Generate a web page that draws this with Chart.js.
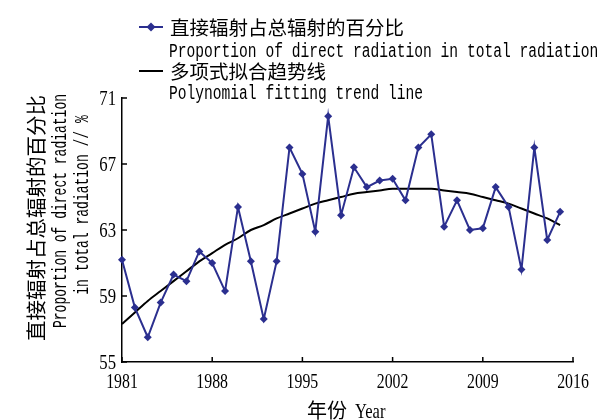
<!DOCTYPE html>
<html>
<head>
<meta charset="utf-8">
<script src="https://cdn.jsdelivr.net/npm/chart.js@4"></script>
<style>
    html, body { margin: 0; padding: 0; background: #fff; }
    canvas { display: block; }
</style>
</head>
<body>
<canvas id="myChart" width="614" height="420"></canvas>
<script>
const ctx = document.getElementById("myChart");

// Years 1981 - 2015
const years = [
    1981, 1982, 1983, 1984, 1985, 1986, 1987, 1988, 1989, 1990,
    1991, 1992, 1993, 1994, 1995, 1996, 1997, 1998, 1999, 2000,
    2001, 2002, 2003, 2004, 2005, 2006, 2007, 2008, 2009, 2010,
    2011, 2012, 2013, 2014, 2015
];

// Proportion of direct radiation in total radiation (%)
const directShare = [
    61.2, 58.3, 56.5, 58.6, 60.3, 59.9, 61.7, 61.0, 59.3, 64.4,
    61.1, 57.6, 61.1, 68.0, 66.4, 62.9, 69.9, 63.9, 66.8, 65.6,
    66.0, 66.1, 64.8, 68.0, 68.8, 63.2, 64.8, 63.0, 63.1, 65.6,
    64.4, 60.6, 68.0, 62.4, 64.1
];

// Polynomial fitting trend line
const trendLine = [
    57.3, 58.0, 58.7, 59.3, 59.9, 60.5, 61.1, 61.6, 62.1, 62.5,
    63.0, 63.3, 63.7, 64.0, 64.3, 64.6, 64.8, 65.0, 65.2, 65.3,
    65.4, 65.5, 65.5, 65.5, 65.5, 65.4, 65.3, 65.2, 65.0, 64.8,
    64.6, 64.3, 64.0, 63.7, 63.3
];

const xTicks = [1981, 1988, 1995, 2002, 2009, 2016];
const yTicks = [55, 59, 63, 67, 71];

const seriesNames = ["直接辐射占总辐射的百分比", "Proportion of direct radiation in total radiation",
                     "多项式拟合趋势线", "Polynomial fitting trend line"];
const yTitleLines = ["直接辐射占总辐射的百分比", "Proportion of direct radiation", "in total radiation // %"];
const xTitleCn = "年份";
const xTitleEn = "Year";

const BLUE = "#2b2f8f";
const MONO = "'Liberation Mono', monospace";
const SERIF = "'Liberation Serif', serif";
const CJK = "'Noto Sans CJK SC', sans-serif";

// draws text squeezed horizontally (the original uses tall, narrow glyphs)
function drawText(c, text, x, y, font, sx, align, baseline, rot) {
    c.save();
    c.translate(x, y);
    if (rot) c.rotate(rot);
    c.scale(sx, 1);
    c.font = font;
    c.textAlign = align;
    c.textBaseline = baseline;
    c.fillText(text, 0, 0);
    c.restore();
}

// inward tick marks, tick labels, legend and axis titles
const decorations = {
    id: "decorations",
    afterDraw(chart) {
        const c = chart.ctx;
        const xs = chart.scales.x;
        const ys = chart.scales.y;
        const area = chart.chartArea;
        c.save();
        c.strokeStyle = "#000";
        c.fillStyle = "#000";
        c.lineWidth = 1.5;
        xs.ticks.forEach((t, i) => {
            const px = xs.getPixelForValue(t.value);
            c.beginPath();
            c.moveTo(px, area.bottom);
            c.lineTo(px, area.bottom - 5);
            c.stroke();
            drawText(c, String(xTicks[i]), px, 388, "22px " + SERIF, 0.72, "center", "alphabetic");
        });
        ys.ticks.forEach((t, i) => {
            const py = ys.getPixelForValue(t.value);
            c.beginPath();
            c.moveTo(area.left, py);
            c.lineTo(area.left + 5, py);
            c.stroke();
            drawText(c, String(yTicks[i]), 116, py + 7, "22px " + SERIF, 0.76, "right", "alphabetic");
        });

        // legend
        c.lineWidth = 2;
        c.strokeStyle = BLUE;
        c.beginPath();
        c.moveTo(139, 27);
        c.lineTo(163, 27);
        c.stroke();
        c.fillStyle = BLUE;
        c.beginPath();
        c.moveTo(151, 22.5);
        c.lineTo(155.5, 27);
        c.lineTo(151, 31.5);
        c.lineTo(146.5, 27);
        c.closePath();
        c.fill();
        c.strokeStyle = "#000";
        c.beginPath();
        c.moveTo(139, 71);
        c.lineTo(163, 71);
        c.stroke();

        c.fillStyle = "#000";
        drawText(c, seriesNames[0], 170, 28, "19.5px " + CJK, 1, "left", "middle");
        drawText(c, seriesNames[2], 170, 72, "19.5px " + CJK, 1, "left", "middle");
        drawText(c, seriesNames[1], 169, 57, "20px " + MONO, 0.73, "left", "alphabetic");
        drawText(c, seriesNames[3], 169, 99, "20px " + MONO, 0.73, "left", "alphabetic");

        // x title
        drawText(c, xTitleCn, 307, 410, "20px " + CJK, 1, "left", "middle");
        drawText(c, xTitleEn, 355, 418, "22px " + SERIF, 0.75, "left", "alphabetic");

        // y title
        drawText(c, yTitleLines[0], 36, 218, "20.5px " + CJK, 1, "center", "middle", -Math.PI / 2);
        drawText(c, yTitleLines[1], 66, 211, "20px " + MONO, 0.65, "center", "alphabetic", -Math.PI / 2);
        drawText(c, yTitleLines[2], 88, 205, "20px " + MONO, 0.65, "center", "alphabetic", -Math.PI / 2);
        c.restore();
    }
};

const chart = new Chart(ctx, {
    type: "line",
    data: {
        datasets: [
            {
                label: seriesNames[0],
                data: years.map((yr, i) => ({ x: yr, y: directShare[i] })),
                borderColor: BLUE,
                backgroundColor: BLUE,
                borderWidth: 2,
                pointStyle: "rectRot",
                pointRadius: 4,
                pointBorderWidth: 0,
                tension: 0,
                clip: false
            },
            {
                label: seriesNames[2],
                data: years.map((yr, i) => ({ x: yr, y: trendLine[i] })),
                borderColor: "#000",
                borderWidth: 2,
                pointRadius: 0,
                cubicInterpolationMode: "monotone",
                clip: false
            }
        ]
    },
    options: {
        responsive: false,
        animation: false,
        layout: {
            padding: { left: 90, right: 41, top: 98, bottom: 28 }
        },
        scales: {
            x: {
                type: "linear",
                min: 1981,
                max: 2016,
                afterBuildTicks: (scale) => {
                    scale.ticks = xTicks.map(v => ({ value: v }));
                },
                afterFit: (scale) => { scale.height = 30; },
                grid: { display: false, drawTicks: false },
                border: { display: true, color: "#000", width: 1.5 },
                ticks: { display: false }
            },
            y: {
                min: 55,
                max: 71,
                afterBuildTicks: (scale) => {
                    scale.ticks = yTicks.map(v => ({ value: v }));
                },
                afterFit: (scale) => { scale.width = 32; },
                grid: { display: false, drawTicks: false },
                border: { display: true, color: "#000", width: 1.5 },
                ticks: { display: false }
            }
        },
        plugins: {
            legend: { display: false },
            tooltip: { enabled: false }
        }
    },
    plugins: [decorations]
});
</script>
</body>
</html>
